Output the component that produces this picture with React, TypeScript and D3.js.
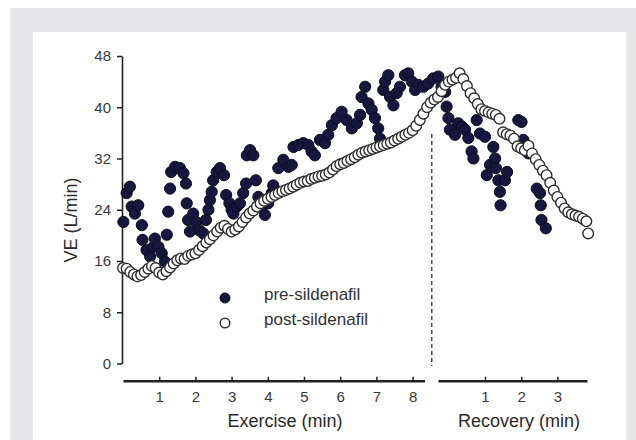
import React, { useEffect, useRef } from 'react';
import * as d3 from 'd3';

// time = minutes from start of exercise; recovery clock starts at minute 9
const preTime = [
  0.01, 0.1, 0.19, 0.24, 0.33, 0.42, 0.52, 0.54, 0.65, 0.75, 0.84, 0.88, 0.98, 1.07, 1.16, 1.21,
  1.25, 1.3, 1.33, 1.44, 1.57, 1.67, 1.74, 1.76, 1.8, 1.85, 1.94, 2.02, 2.11, 2.22, 2.29, 2.36,
  2.4, 2.45, 2.49, 2.59, 2.68, 2.79, 2.85, 2.94, 3.0, 3.05, 3.14, 3.23, 3.32, 3.4, 3.42, 3.51,
  3.6, 3.67, 3.74, 3.83, 3.92, 4.01, 4.11, 4.15, 4.29, 4.43, 4.57, 4.66, 4.71, 4.84, 4.98, 5.12,
  5.21, 5.3, 5.44, 5.58, 5.67, 5.77, 5.9, 6.04, 6.18, 6.32, 6.46, 6.55, 6.59, 6.69, 6.78, 6.87,
  6.96, 7.05, 7.1, 7.19, 7.24, 7.33, 7.38, 7.47, 7.56, 7.65, 7.79, 7.88, 7.98, 8.07, 8.16, 8.3,
  8.43, 8.57, 8.71, 8.8, 8.9, 8.94, 8.99, 9.03, 9.17, 9.26, 9.36, 9.45, 9.54, 9.63, 9.68, 9.77,
  9.86, 10.0, 10.05, 10.14, 10.23, 10.28, 10.3, 10.37, 10.41, 10.43, 10.55, 10.61, 10.92, 11.01,
  11.06, 11.2, 11.43, 11.52, 11.54, 11.56, 11.68,
];
const preVE = [
  22.1, 26.6, 27.6, 24.5, 23.4, 24.7, 21.6, 19.3, 17.7, 16.7, 18.2, 19.5, 18.2, 17.2, 15.9, 20.1,
  23.7, 27.3, 29.9, 30.7, 30.5, 29.7, 28.1, 25.0, 22.4, 20.6, 23.4, 22.1, 20.8, 20.3, 22.4, 24.0,
  25.5, 26.8, 28.6, 29.9, 30.5, 29.4, 26.3, 25.0, 24.0, 23.4, 24.5, 25.0, 26.6, 28.1, 32.5, 33.3,
  32.5, 28.6, 26.0, 24.5, 23.2, 25.0, 26.6, 27.8, 30.5, 31.8, 30.7, 31.0, 33.8, 34.1, 34.4, 34.1,
  33.1, 32.5, 34.9, 34.4, 35.7, 37.2, 38.3, 39.3, 38.0, 36.7, 37.5, 38.8, 41.6, 43.2, 40.6, 39.6,
  38.3, 36.7, 35.1, 42.7, 44.0, 45.0, 41.6, 40.3, 42.2, 43.2, 45.0, 45.3, 44.0, 42.7, 43.5, 43.2,
  43.7, 44.5, 44.8, 43.2, 42.4, 40.1, 38.3, 36.5, 35.7, 37.5, 37.0, 36.5, 35.2, 33.1, 32.0, 38.0,
  35.9, 35.4, 29.4, 31.0, 33.8, 32.0, 30.5, 28.6, 26.8, 24.7, 28.6, 29.9, 38.0, 37.7,
  34.9, 32.8, 27.3, 26.6, 24.7, 22.4, 21.1,
];

const postTime = [
  0.0, 0.1, 0.2, 0.3, 0.4, 0.5, 0.6, 0.7, 0.8, 0.9, 1.0, 1.1, 1.2, 1.3, 1.4, 1.5, 1.6, 1.7, 1.8,
  1.9, 2.0, 2.1, 2.2, 2.3, 2.4, 2.5, 2.6, 2.7, 2.8, 2.9, 3.0, 3.1, 3.2, 3.3, 3.4, 3.5, 3.6, 3.7,
  3.8, 3.9, 4.0, 4.1, 4.2, 4.3, 4.4, 4.5, 4.6, 4.7, 4.8, 4.9, 5.0, 5.1, 5.2, 5.3, 5.4, 5.5, 5.6,
  5.7, 5.8, 5.9, 6.0, 6.1, 6.2, 6.3, 6.4, 6.5, 6.6, 6.7, 6.8, 6.9, 7.0, 7.1, 7.2, 7.3, 7.4, 7.5,
  7.6, 7.7, 7.8, 7.9, 8.0, 8.1, 8.2, 8.3, 8.4, 8.5, 8.6, 8.7, 8.8, 8.9, 9.0, 9.1, 9.2, 9.3, 9.4,
  9.5, 9.6, 9.7, 9.8, 9.9, 10.0, 10.1, 10.2, 10.3, 10.4, 10.5, 10.6, 10.7, 10.8, 10.9, 11.0, 11.1,
  11.2, 11.3, 11.4, 11.5, 11.6, 11.7, 11.8, 11.9, 12.0, 12.1, 12.2, 12.3, 12.4, 12.5, 12.6, 12.7,
  12.8, 12.85,
];
const postVE = [
  14.9, 14.8, 14.3, 13.9, 13.6, 13.8, 14.3, 14.8, 15.2, 14.9, 14.2, 13.9, 14.4, 15.0, 15.6, 16.1,
  16.4, 16.3, 16.8, 17.0, 17.2, 17.7, 18.3, 18.9, 19.4, 20.0, 20.6, 21.2, 21.5, 21.0, 20.6, 20.9,
  21.4, 22.1, 22.8, 23.4, 23.9, 24.5, 25.0, 25.4, 25.7, 26.0, 26.3, 26.6, 26.9, 27.1, 27.3, 27.6,
  27.9, 28.2, 28.4, 28.5, 28.8, 29.0, 29.2, 29.3, 29.5, 29.8, 30.3, 30.8, 31.1, 31.3, 31.6, 31.9,
  32.2, 32.6, 32.9, 33.1, 33.3, 33.5, 33.7, 33.9, 34.1, 34.3, 34.5, 34.8, 35.1, 35.4, 35.7, 36.0,
  36.4, 37.1, 38.0, 39.0, 40.0, 40.7, 41.2, 41.6, 42.5, 43.5, 44.0, 44.3, 44.6, 45.3, 44.4, 43.3,
  42.2, 41.4, 40.5, 39.7, 39.4, 39.2, 39.0, 38.8, 38.2, 36.1, 35.8, 35.6, 35.1, 33.9, 33.6, 33.3,
  34.0, 32.8, 31.9, 31.0, 30.1, 29.4, 28.2, 27.0, 26.0, 25.1, 24.2, 23.6, 23.3, 23.1, 22.9, 22.6,
  22.2, 20.3,
];

const yTicks = [0, 8, 16, 24, 32, 40, 48];
const exerciseTicks = [1, 2, 3, 4, 5, 6, 7, 8];
const recoveryTicks = [1, 2, 3];
const RECOVERY_START = 9;
const EXERCISE_END = 8.53;

const FONT = '"Liberation Sans", Arial, sans-serif';
const NAVY = '#16163e';

const App = () => {
  const svgRef = useRef<SVGSVGElement>(null);

  useEffect(() => {
    const svg = d3.select(svgRef.current);
    svg.selectAll('*').remove();

    // frame
    svg.append('rect').attr('x', 10).attr('y', 8).attr('width', 640).attr('height', 450).attr('fill', '#e6e6e8');
    svg.append('rect').attr('x', 33).attr('y', 32).attr('width', 593).attr('height', 420).attr('fill', '#fff');

    const x = d3.scaleLinear().domain([0, 13]).range([123, 123 + 36.2 * 13]);
    const y = d3.scaleLinear().domain([0, 48]).range([363.5, 56]);

    // y axis
    const yAxis = svg.append('g')
      .attr('transform', 'translate(122,0)')
      .call(d3.axisLeft(y).tickValues(yTicks).tickSize(5).tickSizeOuter(0).tickPadding(6));

    // x axes, two segments
    const xEx = d3.scaleLinear().domain([0, 8.33]).range([x(0), x(8.33)]);
    const xRec = d3.scaleLinear().domain([-0.3, 3.82]).range([x(RECOVERY_START - 0.3), x(RECOVERY_START + 3.82)]);

    const exAxis = svg.append('g')
      .attr('transform', 'translate(0,380.7)')
      .call(d3.axisBottom(xEx).tickValues(exerciseTicks).tickSize(-4).tickSizeOuter(0).tickPadding(11)
        .tickFormat(d3.format('d')));
    const recAxis = svg.append('g')
      .attr('transform', 'translate(0,380.7)')
      .call(d3.axisBottom(xRec).tickValues(recoveryTicks).tickSize(-4).tickSizeOuter(0).tickPadding(11)
        .tickFormat(d3.format('d')));

    [yAxis, exAxis, recAxis].forEach(a => {
      a.selectAll('text').style('font-family', FONT).style('font-size', '15px').style('fill', '#3a3a3a');
      a.selectAll('.tick line').style('stroke', '#222').style('stroke-width', 1.5);
    });
    yAxis.select('.domain').style('stroke', '#222').style('stroke-width', 1.6);
    exAxis.select('.domain').style('stroke', '#222').style('stroke-width', 2.4);
    recAxis.select('.domain').style('stroke', '#222').style('stroke-width', 2.4);

    // end of exercise
    svg.append('line')
      .attr('x1', x(EXERCISE_END)).attr('x2', x(EXERCISE_END))
      .attr('y1', 134).attr('y2', 366)
      .attr('stroke', '#333').attr('stroke-width', 1.3).attr('stroke-dasharray', '4,3');

    const pre = preTime.map((t, i) => ({ t, v: preVE[i] }));
    const post = postTime.map((t, i) => ({ t, v: postVE[i] }));

    svg.append('g').selectAll('circle')
      .data(pre)
      .enter().append('circle')
      .attr('cx', d => x(d.t))
      .attr('cy', d => y(d.v))
      .attr('r', 5.6)
      .attr('fill', NAVY)
      .attr('stroke', '#0c0c22')
      .attr('stroke-width', 1);

    svg.append('g').selectAll('circle')
      .data(post)
      .enter().append('circle')
      .attr('cx', d => x(d.t))
      .attr('cy', d => y(d.v))
      .attr('r', 5.3)
      .attr('fill', '#fff')
      .attr('stroke', '#2e2e2e')
      .attr('stroke-width', 1.4);

    // legend
    svg.append('circle').attr('cx', 225).attr('cy', 298).attr('r', 5).attr('fill', NAVY).attr('stroke', '#0c0c22');
    svg.append('circle').attr('cx', 225).attr('cy', 323).attr('r', 4.8).attr('fill', '#fff').attr('stroke', '#333').attr('stroke-width', 1.4);
    const legend = [
      { label: 'pre-sildenafil', yy: 300 },
      { label: 'post-sildenafil', yy: 325 },
    ];
    svg.selectAll('.leg')
      .data(legend)
      .enter().append('text')
      .attr('class', 'leg')
      .attr('x', 264)
      .attr('y', d => d.yy)
      .style('font-family', FONT)
      .style('font-size', '17px')
      .style('fill', '#333')
      .text(d => d.label);

    // axis titles
    const title = (tx: number, ty: number, txt: string, rot = 0) =>
      svg.append('text')
        .attr('transform', `translate(${tx},${ty}) rotate(${rot})`)
        .style('text-anchor', 'middle')
        .style('font-family', FONT)
        .style('font-size', '18px')
        .style('fill', '#2a2a2a')
        .text(txt);
    title(285, 427, 'Exercise (min)');
    title(519, 427, 'Recovery (min)');
    title(77, 220, 'VE (L/min)', -90);
  }, []);

  return (
    <svg ref={svgRef} width={636} height={440} style={{ position: 'absolute', left: 0, top: 0 }} />
  );
};

export default App;
